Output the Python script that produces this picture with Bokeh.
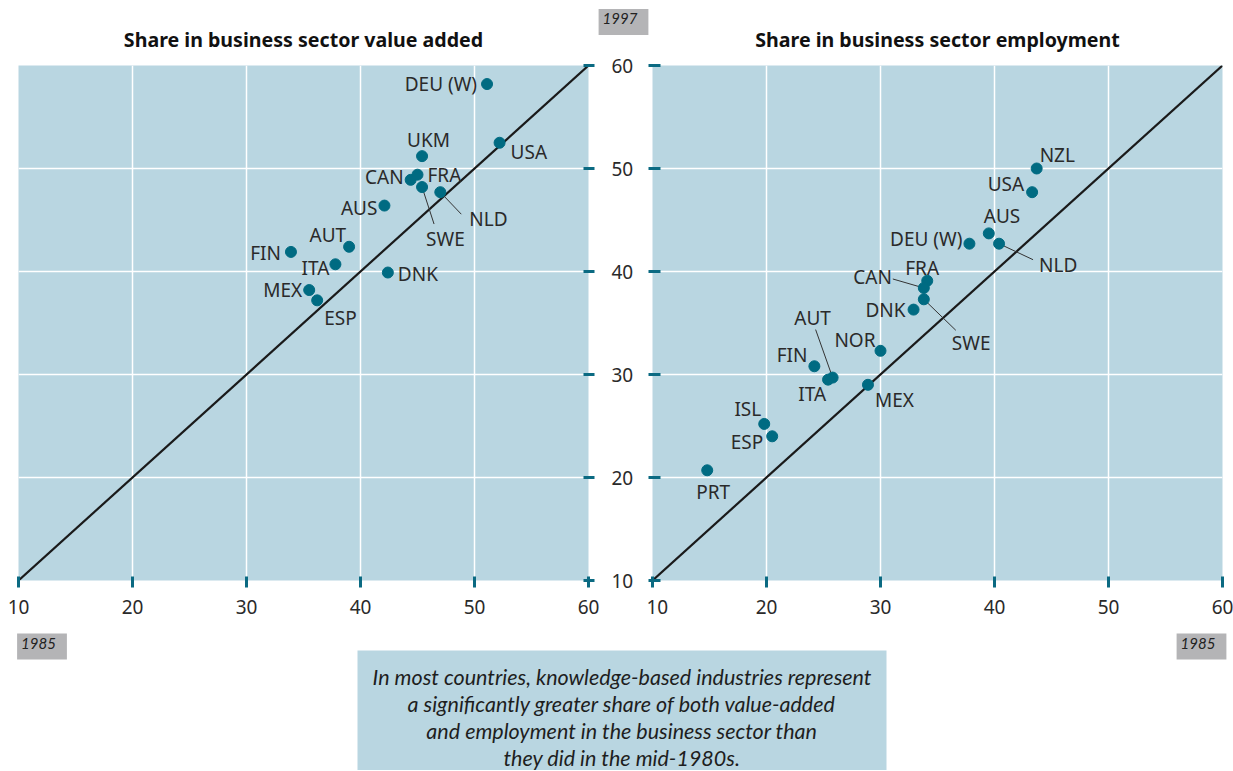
from bokeh.plotting import figure
from bokeh.layouts import column, row
from bokeh.models import Range1d, FixedTicker, ColumnDataSource, Slope, Label, BoxAnnotation
from bokeh.core.properties import value, field
from bokeh.embed import file_html
from bokeh.resources import INLINE

# ---------------- data ----------------
ticks = [10, 20, 30, 40, 50, 60]

va_countries = ["DEU (W)", "USA", "UKM", "CAN", "FRA", "SWE", "NLD", "AUS", "AUT", "FIN", "ITA", "DNK", "MEX", "ESP"]
va_1985 = [51.1, 52.2, 45.4, 44.4, 45.0, 45.4, 47.0, 42.1, 39.0, 33.9, 37.8, 42.4, 35.5, 36.2]
va_1997 = [58.2, 52.5, 51.2, 48.9, 49.4, 48.2, 47.7, 46.4, 42.4, 41.9, 40.7, 39.9, 38.2, 37.2]

emp_countries = ["NZL", "USA", "AUS", "NLD", "DEU (W)", "FRA", "CAN", "SWE", "DNK", "NOR", "FIN", "AUT", "ITA", "MEX", "ISL", "ESP", "PRT"]
emp_1985 = [43.7, 43.3, 39.5, 40.4, 37.8, 34.1, 33.8, 33.8, 32.9, 30.0, 24.2, 25.8, 25.4, 28.9, 19.8, 20.5, 14.8]
emp_1997 = [50.0, 47.7, 43.7, 42.7, 42.7, 39.1, 38.4, 37.3, 36.3, 32.3, 30.8, 29.7, 29.5, 29.0, 25.2, 24.0, 20.7]

title_va = "Share in business sector value added"
title_emp = "Share in business sector employment"
year_y = "1997"
year_x = "1985"
caption_lines = [
    "In most countries, knowledge-based industries represent",
    "a significantly greater share of both value-added",
    "and employment in the business sector than",
    "they did in the mid-1980s.",
]

# ---------------- label layout (pixel offsets, styling) ----------------
va_layout = {
    "DEU (W)": ("right", -10, 0, None),
    "USA": ("left", 11, 9, None),
    "UKM": ("left", -15, -16, None),
    "CAN": ("right", -7, -3, None),
    "FRA": ("left", 10, 0, None),
    "SWE": ("left", 4, 52, (12, 37)),
    "NLD": ("left", 29, 27, (21, 22)),
    "AUS": ("right", -7, 2, None),
    "AUT": ("right", -3, -12, None),
    "FIN": ("right", -10, 1, None),
    "ITA": ("right", -6, 4, None),
    "DNK": ("left", 10, 1, None),
    "MEX": ("right", -7, 0, None),
    "ESP": ("left", 7, 18, None),
}
emp_layout = {
    "NZL": ("left", 3, -14, None),
    "USA": ("right", -8, -8, None),
    "AUS": ("left", -5, -17, None),
    "NLD": ("left", 40, 21, (34, 16)),
    "DEU (W)": ("right", -7, -5, None),
    "FRA": ("left", -22, -13, None),
    "CAN": ("right", -32, -11, (-31, -9)),
    "SWE": ("left", 28, 44, (32, 31)),
    "DNK": ("right", -8, 0, None),
    "NOR": ("right", -5, -11, None),
    "FIN": ("right", -7, -11, None),
    "AUT": ("center", -20, -60, (-17, -48)),
    "ITA": ("right", -2, 14, None),
    "MEX": ("left", 7, 15, None),
    "ISL": ("right", -3, -15, None),
    "ESP": ("right", -9, 6, None),
    "PRT": ("left", -11, 22, None),
}

DOT = "#006b82"
BG = "#b9d6e1"
TICK = "#0b6a82"
TXT = "#2a2a2a"
TAG = "#b4b4b6"
FONT = "Noto Sans"
FRAME_W, FRAME_H = 570, 515
TOP_STRIP_H = 54
BORDER_TOP, BORDER_BOTTOM = 11, 44
ROW_H = BORDER_TOP + FRAME_H + BORDER_BOTTOM
BOTTOM_STRIP_H = 146


def make_panel(xs, ys, names, layout, side, width, bl, br, tin, tout, show_labels):
    p = figure(width=width, height=ROW_H, x_range=Range1d(10, 60), y_range=Range1d(10, 60),
               output_backend="svg", toolbar_location=None, y_axis_location=side,
               min_border_left=bl, min_border_right=br, min_border_top=BORDER_TOP,
               min_border_bottom=BORDER_BOTTOM,
               background_fill_color=BG, border_fill_color="white", outline_line_color=None)

    for ax in p.axis:
        ax.ticker = FixedTicker(ticks=ticks)
        ax.axis_line_color = None
        ax.major_tick_line_color = TICK
        ax.major_tick_line_width = 3
        ax.minor_tick_line_color = None
        ax.major_label_text_font = FONT
        ax.major_label_text_font_size = "19px"
        ax.major_label_text_color = TXT
    p.xaxis.major_tick_in = 4
    p.xaxis.major_tick_out = 7
    p.xaxis.major_label_standoff = 12
    p.yaxis.major_tick_in = tin
    p.yaxis.major_tick_out = tout
    if show_labels:
        p.yaxis.major_label_standoff = 17
    else:
        p.yaxis.major_label_standoff = 0
        p.yaxis.major_label_overrides = {t: "" for t in ticks}

    for g in (p.xgrid, p.ygrid):
        g.ticker = FixedTicker(ticks=[20, 30, 40, 50])
        g.grid_line_color = "white"
        g.grid_line_width = 1.5

    diag = Slope(gradient=1, y_intercept=0, line_color="#1a1a1a", line_width=2.2, level="underlay")
    p.add_layout(diag)

    pxx = FRAME_W / 50.0
    pxy = FRAME_H / 50.0
    align, dx, dy, lx0, ly0, lx1, ly1 = [], [], [], [], [], [], []
    for n, x, y in zip(names, xs, ys):
        a, ox, oy, lead = layout[n]
        align.append(a)
        dx.append(ox)
        dy.append(oy)
        if lead is not None:
            lx0.append(x)
            ly0.append(y)
            lx1.append(x + lead[0] / pxx)
            ly1.append(y - lead[1] / pxy)
    p.segment(x0=lx0, y0=ly0, x1=lx1, y1=ly1, line_color="#333333", line_width=1)

    src = ColumnDataSource(dict(x=xs, y=ys, name=names, dx=dx, dy=dy, align=align))
    p.scatter("x", "y", source=src, size=11, fill_color=DOT, line_color=DOT)
    p.text("x", "y", text="name", source=src, x_offset="dx", y_offset="dy",
           text_align=field("align"), text_baseline="middle",
           text_font=value(FONT), text_font_size="19px", text_color=TXT)
    return p


pL = make_panel(va_1985, va_1997, va_countries, va_layout, "right", 646, 18, 58, 5, 6, True)
pR = make_panel(emp_1985, emp_1997, emp_countries, emp_layout, "left", 587, 6, 11, 8, 4, False)


def strip(height):
    s = figure(width=1233, height=height, x_range=Range1d(0, 1233), y_range=Range1d(0, height),
               output_backend="svg", toolbar_location=None, x_axis_location=None,
               y_axis_location=None, min_border=0, outline_line_color=None,
               background_fill_color="white", border_fill_color="white")
    s.grid.visible = False
    return s


def tag(text, x, y):
    return Label(x=x, y=y, text=text, text_align="center", text_baseline="middle",
                 text_font="Lato", text_font_style="italic", text_font_size="15px",
                 text_color="#222222", background_fill_color=TAG, padding=(4, 11, 4, 11))


# top strip: panel titles and the 1997 tag
pt = strip(TOP_STRIP_H)
for t, xc in ((title_va, 303), (title_emp, 937)):
    pt.add_layout(Label(x=xc, y=TOP_STRIP_H - 39, text=t, text_align="center",
                        text_baseline="middle", text_font=FONT, text_font_style="bold",
                        text_font_size="19.6px", text_color="#111111"))
pt.add_layout(tag(year_y, 623, TOP_STRIP_H - 21.5))

# bottom strip: 1985 tags and caption
pb = strip(BOTTOM_STRIP_H)
for xpos in (41.5, 1201):
    pb.add_layout(tag(year_x, xpos, BOTTOM_STRIP_H - 22))
pb.add_layout(BoxAnnotation(left=357, right=886, bottom=0, top=120, fill_color=BG, fill_alpha=1,
                            line_color=None, level="underlay"))
for i, line in enumerate(caption_lines):
    pb.add_layout(Label(x=621.5, y=94 - 27 * i, text=line, text_align="center",
                        text_baseline="middle", text_font="Lato", text_font_style="italic",
                        text_font_size="21.5px", text_color="#1e1e1e"))

layout = column(pt, row(pL, pR, spacing=0), pb, spacing=0)
open("out.html", "w").write(file_html(layout, INLINE, title="Knowledge-based industries"))
